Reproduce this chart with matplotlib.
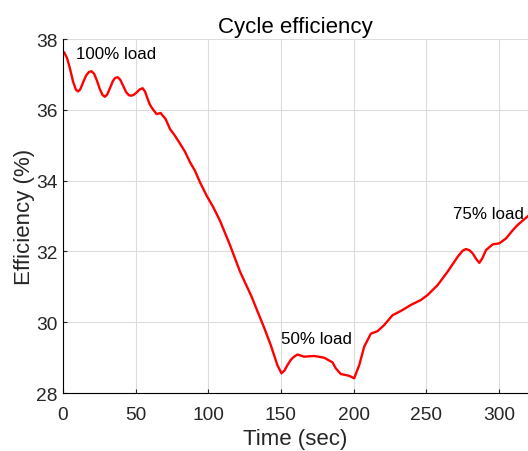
import matplotlib.pyplot as plt

plt.rcParams['font.family'] = ['Liberation Sans', 'DejaVu Sans']

# efficiency trace
time_s = [0, 1, 3, 5, 7, 9, 10.5, 12, 14, 16, 18, 19.7, 21.5, 23.5, 25.5, 27.3,
          28.9, 30.5, 32.5, 34.5, 36, 37.7, 39.5, 41.5, 43.5, 45.5, 47.3, 49, 51,
          53, 54.9, 56.5, 58, 59.5, 61, 64.5, 67.3, 70.7, 73.7, 77.1, 80.1, 84,
          87.5, 90.9, 94.4, 99, 103.5, 108.1, 115, 121.9, 129.9, 134.5, 138.2,
          143, 147.6, 150.4, 152.5, 154.5, 157, 159.1, 161.4, 166, 172.9, 179.8,
          185.5, 187.8, 191.2, 197, 200.4, 203.9, 207.3, 211.9, 216.5, 221, 226.8,
          232.5, 239.4, 246.3, 250.9, 257.8, 264.7, 271.6, 275, 277.3, 279.5,
          281.9, 284.5, 286.5, 288.5, 291.1, 295.7, 300.3, 304.9, 309.5, 312.9,
          320]
efficiency = [37.64, 37.62, 37.45, 37.15, 36.80, 36.57, 36.52, 36.58, 36.78,
              36.97, 37.07, 37.09, 37.02, 36.82, 36.58, 36.42, 36.37, 36.43, 36.62,
              36.82, 36.90, 36.92, 36.85, 36.68, 36.50, 36.41, 36.40, 36.43, 36.50,
              36.58, 36.61, 36.52, 36.35, 36.18, 36.07, 35.88, 35.91, 35.74, 35.46,
              35.27, 35.08, 34.82, 34.52, 34.28, 33.95, 33.57, 33.25, 32.87, 32.18,
              31.43, 30.72, 30.25, 29.88, 29.36, 28.79, 28.56, 28.64, 28.79, 28.95,
              29.03, 29.09, 29.03, 29.05, 29.00, 28.87, 28.70, 28.54, 28.49, 28.42,
              28.79, 29.31, 29.68, 29.75, 29.92, 30.20, 30.32, 30.49, 30.63, 30.77,
              31.05, 31.43, 31.85, 32.02, 32.07, 32.04, 31.95, 31.78, 31.68, 31.80,
              32.04, 32.20, 32.23, 32.37, 32.60, 32.75, 33.0]

load_labels = ['100% load', '50% load', '75% load']
label_t = [9, 150.4, 268.6]
label_eff = [37.6, 29.55, 33.06]

fig = plt.figure(figsize=(5.28, 4.52), dpi=100)
ax = fig.add_axes([0.119, 0.128, 0.881, 0.7835])

ax.plot(time_s, efficiency, color='red', linewidth=1.7)

for txt, tx, ty in zip(load_labels, label_t, label_eff):
    ax.text(tx, ty, txt, fontsize=12.2, va='center', ha='left')

ax.set_xlim(0, 320)
ax.set_ylim(28, 38)
ax.set_xticks([0, 50, 100, 150, 200, 250, 300])
ax.set_yticks([28, 30, 32, 34, 36, 38])
ax.grid(True, color='#dcdcdc', linewidth=0.8)
ax.set_axisbelow(True)
ax.spines['top'].set_visible(False)
ax.spines['right'].set_visible(False)
ax.tick_params(direction='in', labelsize=13.8, length=3, color='#262626',
               labelcolor='#262626')
ax.tick_params(axis='x', pad=9)
ax.set_xlabel('Time (sec)', fontsize=16, color='#262626')
ax.set_ylabel('Efficiency (%)', fontsize=16, color='#262626', labelpad=1)
ax.set_title('Cycle efficiency', fontsize=16, pad=5)

fig.savefig('out.png', dpi=100)
